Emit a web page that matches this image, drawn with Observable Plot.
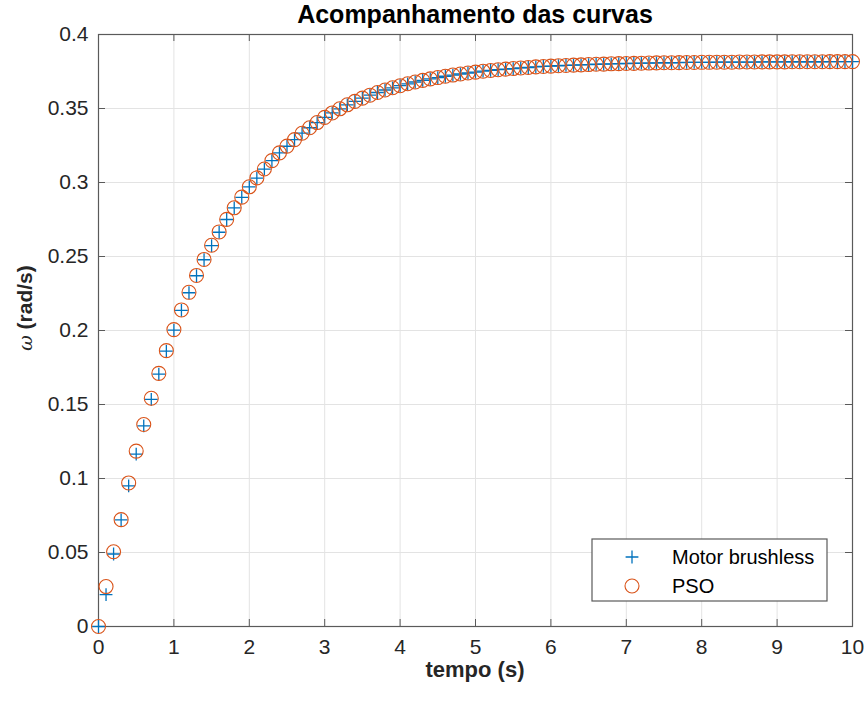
<!DOCTYPE html>
<html>
<head>
<meta charset="utf-8">
<script src="https://cdn.jsdelivr.net/npm/d3@7"></script>
<script src="https://cdn.jsdelivr.net/npm/@observablehq/plot@0.6"></script>
<style>
  html, body { margin: 0; padding: 0; background: #ffffff; }
  #chart svg { display: block; }
</style>
</head>
<body>
<div id="chart"></div>
<script>
// ---- data ----
const tempo = [
  0.0, 0.1, 0.2, 0.3, 0.4, 0.5, 0.6, 0.7, 0.8, 0.9,
  1.0, 1.1, 1.2, 1.3, 1.4, 1.5, 1.6, 1.7, 1.8, 1.9,
  2.0, 2.1, 2.2, 2.3, 2.4, 2.5, 2.6, 2.7, 2.8, 2.9,
  3.0, 3.1, 3.2, 3.3, 3.4, 3.5, 3.6, 3.7, 3.8, 3.9,
  4.0, 4.1, 4.2, 4.3, 4.4, 4.5, 4.6, 4.7, 4.8, 4.9,
  5.0, 5.1, 5.2, 5.3, 5.4, 5.5, 5.6, 5.7, 5.8, 5.9,
  6.0, 6.1, 6.2, 6.3, 6.4, 6.5, 6.6, 6.7, 6.8, 6.9,
  7.0, 7.1, 7.2, 7.3, 7.4, 7.5, 7.6, 7.7, 7.8, 7.9,
  8.0, 8.1, 8.2, 8.3, 8.4, 8.5, 8.6, 8.7, 8.8, 8.9,
  9.0, 9.1, 9.2, 9.3, 9.4, 9.5, 9.6, 9.7, 9.8, 9.9,
  10.0
];
const motorBrushless = [
  0.0000, 0.0215, 0.0490, 0.0720, 0.0950, 0.1165, 0.1355, 0.1535, 0.1705, 0.1860,
  0.2003, 0.2136, 0.2255, 0.2370, 0.2478, 0.2574, 0.2664, 0.2750, 0.2828, 0.2900,
  0.2970, 0.3030, 0.3090, 0.3148, 0.3200, 0.3245, 0.3290, 0.3333, 0.3370, 0.3405,
  0.3440, 0.3470, 0.3498, 0.3525, 0.3548, 0.3570, 0.3590, 0.3608, 0.3625, 0.3640,
  0.3654, 0.3667, 0.3679, 0.3690, 0.3700, 0.3709, 0.3718, 0.3726, 0.3733, 0.3740,
  0.3746, 0.3752, 0.3757, 0.3762, 0.3766, 0.3770, 0.3774, 0.3777, 0.3781, 0.3784,
  0.3786, 0.3789, 0.3791, 0.3793, 0.3795, 0.3797, 0.3799, 0.3800, 0.3802, 0.3803,
  0.3804, 0.3805, 0.3806, 0.3807, 0.3808, 0.3809, 0.3809, 0.3810, 0.3811, 0.3811,
  0.3812, 0.3812, 0.3813, 0.3813, 0.3813, 0.3814, 0.3814, 0.3814, 0.3815, 0.3815,
  0.3815, 0.3815, 0.3816, 0.3816, 0.3816, 0.3816, 0.3816, 0.3817, 0.3817, 0.3817,
  0.3817
];
const pso = [
  0.0000, 0.0270, 0.0505, 0.0722, 0.0970, 0.1185, 0.1365, 0.1542, 0.1710, 0.1864,
  0.2006, 0.2139, 0.2258, 0.2372, 0.2480, 0.2576, 0.2666, 0.2751, 0.2829, 0.2901,
  0.2971, 0.3031, 0.3091, 0.3148, 0.3200, 0.3246, 0.3290, 0.3333, 0.3370, 0.3405,
  0.3440, 0.3470, 0.3498, 0.3525, 0.3548, 0.3570, 0.3590, 0.3608, 0.3625, 0.3640,
  0.3654, 0.3667, 0.3679, 0.3690, 0.3700, 0.3709, 0.3718, 0.3726, 0.3733, 0.3740,
  0.3746, 0.3752, 0.3757, 0.3762, 0.3766, 0.3770, 0.3774, 0.3777, 0.3781, 0.3784,
  0.3786, 0.3789, 0.3791, 0.3793, 0.3795, 0.3797, 0.3799, 0.3800, 0.3802, 0.3803,
  0.3804, 0.3805, 0.3806, 0.3807, 0.3808, 0.3809, 0.3809, 0.3810, 0.3811, 0.3811,
  0.3812, 0.3812, 0.3813, 0.3813, 0.3813, 0.3814, 0.3814, 0.3814, 0.3815, 0.3815,
  0.3815, 0.3815, 0.3816, 0.3816, 0.3816, 0.3816, 0.3816, 0.3817, 0.3817, 0.3817,
  0.3817
];
const seriesNames = ["Motor brushless", "PSO"];
const xTicks = [0, 1, 2, 3, 4, 5, 6, 7, 8, 9, 10];
const yTicks = [0, 0.05, 0.1, 0.15, 0.2, 0.25, 0.3, 0.35, 0.4];
const titleText = "Acompanhamento das curvas";
const xLabel = "tempo (s)";
const yLabelSymbol = "ω";
const yLabelUnit = " (rad/s)";

// ---- layout / style ----
const W = 865, H = 704;
const mL = 98, mR = 13, mT = 34, mB = 78;
const fw = W - mL - mR, fh = H - mT - mB;
const blue = "#0072BD", orange = "#D95319";
const axisColor = "#5a5a5a", textColor = "#262626";
const font = "'Liberation Sans', Arial, Helvetica, sans-serif";
const tickLen = 7;
const plusR = 4.2, circR = 7;

const rowsMotor = tempo.map((t, i) => ({t, v: motorBrushless[i]}));
const rowsPso = tempo.map((t, i) => ({t, v: pso[i]}));

const fmt = d => String(+d.toFixed(2));

const chart = Plot.plot({
  width: W, height: H,
  marginLeft: mL, marginRight: mR, marginTop: mT, marginBottom: mB,
  style: {fontFamily: font, fontSize: "21px", color: textColor, background: "#ffffff", overflow: "visible"},
  x: {domain: [0, 10], ticks: 10, tickSize: 0, tickPadding: 13, tickFormat: fmt, label: null},
  y: {domain: [0, 0.4], ticks: 8, tickSize: 0, tickPadding: 10, tickFormat: fmt, label: null},
  marks: [
    Plot.ruleX(xTicks, {x: d => d, stroke: "#e3e3e3", strokeWidth: 1}),
    Plot.ruleY(yTicks, {y: d => d, stroke: "#e3e3e3", strokeWidth: 1}),
    // inward tick marks on all four sides
    Plot.ruleX(xTicks, {x: d => d, stroke: axisColor, insetTop: fh - tickLen}),
    Plot.ruleX(xTicks, {x: d => d, stroke: axisColor, insetBottom: fh - tickLen}),
    Plot.ruleY(yTicks, {y: d => d, stroke: axisColor, insetRight: fw - tickLen}),
    Plot.ruleY(yTicks, {y: d => d, stroke: axisColor, insetLeft: fw - tickLen}),
    Plot.frame({stroke: axisColor, strokeWidth: 1.2}),
    Plot.dot(rowsMotor, {x: "t", y: "v", symbol: "plus", r: plusR, stroke: blue, strokeWidth: 1.3}),
    Plot.dot(rowsPso, {x: "t", y: "v", symbol: "circle", r: circR, stroke: orange, strokeWidth: 1.1, fill: "none"})
  ]
});

const svg = d3.select(chart);

// title
svg.append("text")
  .attr("x", mL + fw / 2).attr("y", 23)
  .attr("text-anchor", "middle")
  .attr("font-family", font).attr("font-size", 25).attr("font-weight", "bold")
  .attr("fill", "#000").text(titleText);

// x label
svg.append("text")
  .attr("x", mL + fw / 2).attr("y", 677)
  .attr("text-anchor", "middle")
  .attr("font-family", font).attr("font-size", 22).attr("font-weight", "bold")
  .attr("fill", textColor).text(xLabel);

// y label
const yl = svg.append("text")
  .attr("transform", "translate(32,308) rotate(-90)")
  .attr("text-anchor", "middle")
  .attr("font-family", font).attr("font-size", 21)
  .attr("fill", textColor);
yl.append("tspan").attr("font-style", "italic").attr("font-family", "'DejaVu Serif', serif").attr("font-size", 19).text(yLabelSymbol);
yl.append("tspan").attr("font-weight", "bold").text(yLabelUnit);

// legend
const lg = svg.append("g").attr("text-anchor", "start");
lg.append("rect").attr("x", 592).attr("y", 539).attr("width", 235).attr("height", 62)
  .attr("fill", "#ffffff").attr("stroke", axisColor).attr("stroke-width", 1.2);
lg.append("path")
  .attr("transform", "translate(632,557)")
  .attr("d", d3.symbol(d3.symbolPlus, Math.PI * plusR * plusR)())
  .attr("fill", "none").attr("stroke", blue).attr("stroke-width", 1.3);
lg.append("circle").attr("cx", 632).attr("cy", 586).attr("r", circR)
  .attr("fill", "none").attr("stroke", orange).attr("stroke-width", 1.1);
lg.append("text").attr("x", 672).attr("y", 564).attr("text-anchor", "start")
  .attr("font-family", font).attr("font-size", 20).attr("fill", "#000").text(seriesNames[0]);
lg.append("text").attr("x", 672).attr("y", 593).attr("text-anchor", "start")
  .attr("font-family", font).attr("font-size", 20).attr("fill", "#000").text(seriesNames[1]);

document.getElementById("chart").appendChild(chart);
</script>
</body>
</html>
